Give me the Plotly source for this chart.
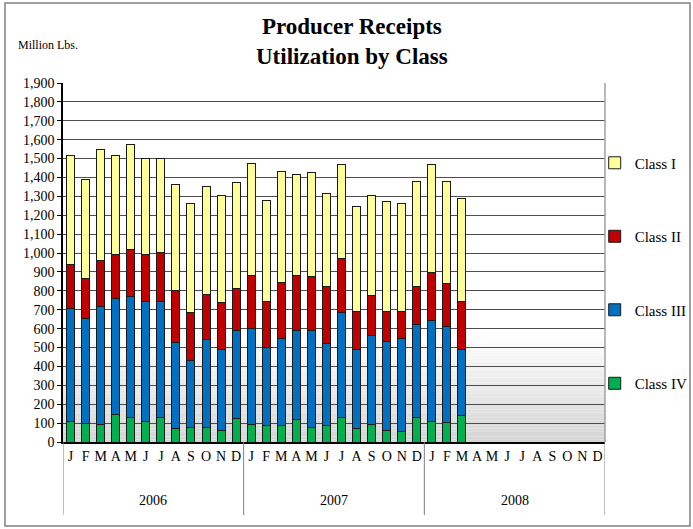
import plotly.graph_objects as go

months = ["J", "F", "M", "A", "M", "J", "J", "A", "S", "O", "N", "D"]
years = ["2006", "2007", "2008"]

# Values in million lbs, Jan 2006 .. Mar 2008
class_iv = [108, 97, 95, 148, 129, 111, 132, 69, 79, 79, 60, 127,
            95, 89, 89, 121, 79, 89, 128, 72, 95, 63, 58, 128,
            109, 105, 139]
class_iii = [601, 557, 623, 612, 642, 630, 609, 460, 355, 461, 427, 464,
             504, 411, 459, 468, 513, 431, 558, 420, 471, 471, 492, 492,
             536, 508, 351]
class_ii = [233, 212, 241, 235, 250, 254, 262, 275, 250, 240, 250, 224,
            284, 246, 298, 294, 286, 303, 285, 197, 208, 159, 139, 203,
            254, 228, 251]
class_i = [573, 525, 588, 520, 556, 508, 500, 559, 579, 571, 570, 559,
           590, 534, 588, 535, 549, 493, 500, 558, 533, 582, 574, 554,
           572, 536, 550]

n_total = len(months) * len(years)
x = list(range(n_total))

def pad(v):
    return v + [None] * (n_total - len(v))

serif = "Liberation Serif, Times New Roman, serif"
fig = go.Figure()
series = [
    ("Class IV", class_iv, "#00B050", 4),
    ("Class III", class_iii, "#0070C0", 3),
    ("Class II", class_ii, "#C00000", 2),
    ("Class I", class_i, "#FFFF99", 1),
]
for name, vals, col, rank in series:
    fig.add_trace(go.Bar(
        x=x, y=pad(vals), name=name, legendgroup=name, legendrank=rank,
        marker=dict(color=col, line=dict(color="#1a1a1a", width=1)),
    ))

PH = 359.0
PW = 542.0
shapes = []
# gradient background in lower part of plot area
nb = 40
top_frac = 0.30
for i in range(nb):
    f0 = i / nb * top_frac
    f1 = (i + 1) / nb * top_frac
    t = 1 - (i + 0.5) / nb
    g = int(255 - 42 * t)
    shapes.append(dict(type="rect", xref="x domain", yref="y domain",
                       x0=0, x1=1, y0=f0, y1=f1, layer="below",
                       line=dict(width=0),
                       fillcolor=f"rgb({g},{g},{g})"))
# plot-area right border
shapes.append(dict(type="line", xref="x domain", yref="y domain",
                   x0=1, x1=1, y0=0, y1=1, line=dict(color="#a0a0a0", width=1.5)))
# year dividers
for k in range(len(years) + 1):
    xv = k * len(months) - 0.5
    shapes.append(dict(type="line", xref="x", yref="paper", x0=xv, x1=xv,
                       y0=0, y1=-73 / PH, line=dict(color="#808080", width=1)))
# outer chart border
shapes.append(dict(type="rect", xref="paper", yref="paper",
                   x0=(5 - 63) / PW, x1=(690 - 63) / PW,
                   y0=(442 - 526) / PH, y1=(442 - 3) / PH,
                   line=dict(color="#808080", width=1.5)))

annotations = []
for k, yr in enumerate(years):
    annotations.append(dict(x=k * len(months) + 5.5, y=-58 / PH, xref="x", yref="paper",
                            text=yr, showarrow=False, yanchor="middle",
                            font=dict(family=serif, size=14, color="black")))
annotations.append(dict(x=(16 - 63) / PW, y=(442 - 45) / PH, xref="paper", yref="paper",
                        text="Million Lbs.", showarrow=False, xanchor="left",
                        yanchor="middle", font=dict(family=serif, size=12, color="black")))
annotations.append(dict(x=(352 - 63) / PW, y=(442 - 41) / PH, xref="paper", yref="paper",
                        text="<b>Producer Receipts<br>Utilization by Class</b>",
                        showarrow=False, xanchor="center", yanchor="middle",
                        font=dict(family=serif, size=23, color="black")))

fig.update_layout(
    width=693, height=529,
    margin=dict(l=63, r=88, t=83, b=87, autoexpand=False),
    barmode="stack", bargap=0.47,
    plot_bgcolor="white", paper_bgcolor="white",
    showlegend=True,
    legend=dict(x=0.981, y=0.823, xanchor="left", yanchor="top",
                traceorder="grouped", tracegroupgap=51,
                font=dict(family=serif, size=15, color="black"),
                itemwidth=30, bgcolor="rgba(0,0,0,0)"),
    xaxis=dict(tickmode="array", tickvals=x, ticktext=months * len(years),
               range=[-0.5, n_total - 0.5], showgrid=False, ticks="",
               tickfont=dict(family=serif, size=14, color="black"),
               showline=True, linecolor="black", linewidth=1.5, zeroline=False),
    yaxis=dict(range=[0, 1900], dtick=100, tickformat=",d",
               showgrid=True, gridcolor="#4d4d4d", gridwidth=1,
               tickfont=dict(family=serif, size=14, color="black"),
               showline=True, linecolor="black", linewidth=1.5,
               ticks="outside", ticklen=4, tickcolor="black", zeroline=False),
    shapes=shapes, annotations=annotations,
)

fig.write_html("out.html", config={"displayModeBar": False},
               post_script="document.body.style.margin='0';")
